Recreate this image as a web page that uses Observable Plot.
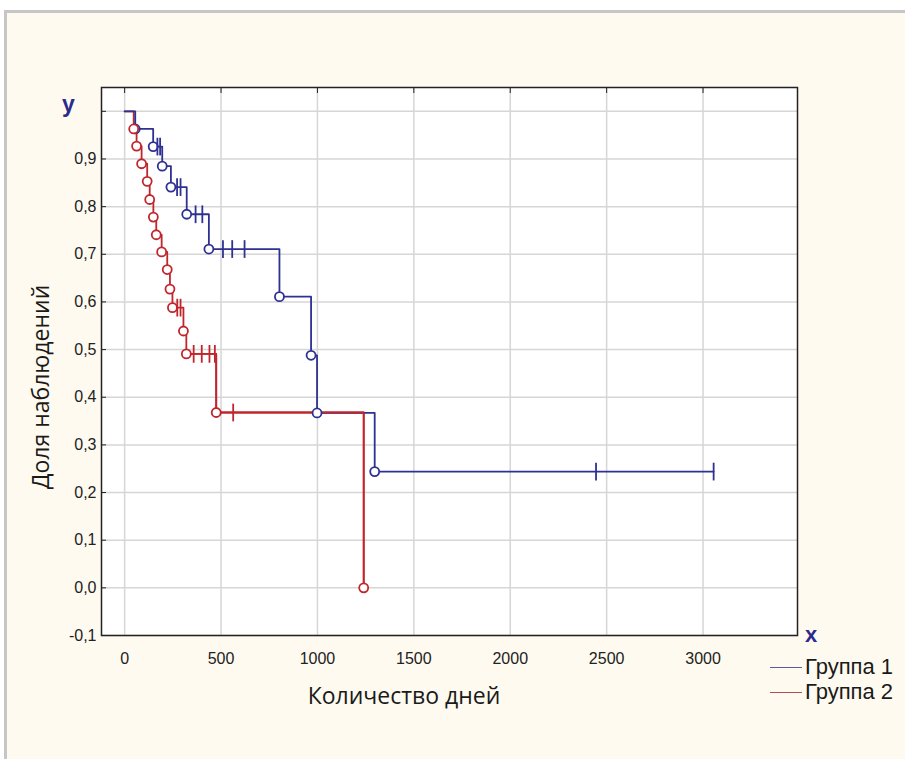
<!DOCTYPE html>
<html>
<head>
<meta charset="utf-8">
<script src="https://cdn.jsdelivr.net/npm/d3@7"></script>
<script src="https://cdn.jsdelivr.net/npm/@observablehq/plot@0.6"></script>
<style>
  html, body { margin: 0; padding: 0; background: #ffffff; }
  #wrap { position: relative; width: 905px; height: 759px; overflow: hidden; }
  #panel { position: absolute; left: 4px; top: 10px; width: 920px; height: 780px;
           background: #fefaf0; border-top: 3px solid #c6c6c6; border-left: 3px solid #c6c6c6; }
  #chart { position: absolute; left: 0; top: 0; }
  .lbl { position: absolute; font-family: "Open Sans", sans-serif; color: #1a1a1a; white-space: nowrap; line-height: 1; }
  .legt { position: absolute; font-family: "Liberation Sans", Arial, sans-serif; color: #1a1a1a; white-space: nowrap; line-height: 1; font-size: 22px; }
  .axl { position: absolute; font-family: "Liberation Sans", Arial, sans-serif; font-weight: bold; color: #2b2b8c; line-height: 1; }
  .leg { position: absolute; height: 0; border-top: 1.5px solid; width: 32px; }
</style>
</head>
<body>
<div id="wrap">
  <div id="panel"></div>
  <div id="chart"></div>
  <div class="lbl" style="left:404px; top:684px; font-size:23px; transform: translateX(-50%);">Количество дней</div>
  <div class="lbl" style="left:40px; top:387px; font-size:23px; transform: translate(-50%,-50%) rotate(-90deg);">Доля наблюдений</div>
  <div class="axl" style="left:62px; top:93px; font-size:23px;">y</div>
  <div class="axl" style="left:805px; top:624px; font-size:22px;">x</div>
  <div class="leg" style="left:770px; top:667px; border-color:#5a5aa0;"></div>
  <div class="leg" style="left:770px; top:692px; border-color:#b05050;"></div>
  <div class="legt" style="left:805px; top:656px;">Группа 1</div>
  <div class="legt" style="left:805px; top:681px;">Группа 2</div>
</div>
<script>
// Group 1 (blue): step points (day, survival)
const g1Days = [0, 55, 148, 195, 240, 322, 437, 803, 967, 998, 1297, 3055];
const g1Surv = [1.0, 0.963, 0.926, 0.885, 0.841, 0.784, 0.711, 0.611, 0.488, 0.367, 0.244, 0.244];
// Group 1 events (circles)
const g1EventDays = [55, 148, 195, 240, 322, 437, 803, 967, 998, 1297];
const g1EventSurv = [0.963, 0.926, 0.885, 0.841, 0.784, 0.711, 0.611, 0.488, 0.367, 0.244];
// Group 1 censored (ticks)
const g1CensDays = [170, 184, 272, 290, 368, 403, 510, 558, 622, 2445, 3055];
const g1CensSurv = [0.926, 0.926, 0.841, 0.841, 0.784, 0.784, 0.711, 0.711, 0.711, 0.244, 0.244];

// Group 2 (red)
const g2Days = [0, 47, 62, 88, 117, 130, 149, 164, 192, 221, 235, 248, 305, 320, 475, 1240];
const g2Surv = [1.0, 0.963, 0.927, 0.890, 0.853, 0.815, 0.778, 0.741, 0.705, 0.668, 0.627, 0.588, 0.539, 0.491, 0.368, 0.0];
const g2EventDays = [47, 62, 88, 117, 130, 149, 164, 192, 221, 235, 248, 305, 320, 475, 1240];
const g2EventSurv = [0.963, 0.927, 0.890, 0.853, 0.815, 0.778, 0.741, 0.705, 0.668, 0.627, 0.588, 0.539, 0.491, 0.368, 0.0];
const g2CensDays = [273, 290, 358, 400, 440, 468, 563];
const g2CensSurv = [0.588, 0.588, 0.491, 0.491, 0.491, 0.491, 0.368];

const xTicks = [0, 500, 1000, 1500, 2000, 2500, 3000];
const yGrid = [-0.1, 0, 0.1, 0.2, 0.3, 0.4, 0.5, 0.6, 0.7, 0.8, 0.9, 1.0];
const yLabels = [-0.1, 0, 0.1, 0.2, 0.3, 0.4, 0.5, 0.6, 0.7, 0.8, 0.9];

const blue = "#2e3192";
const red = "#c0272d";

const zip = (xs, ys) => xs.map((x, i) => ({x, y: ys[i]}));
const g1Line = zip(g1Days, g1Surv), g2Line = zip(g2Days, g2Surv);
const g1Ev = zip(g1EventDays, g1EventSurv), g2Ev = zip(g2EventDays, g2EventSurv);
const g1Ce = zip(g1CensDays, g1CensSurv), g2Ce = zip(g2CensDays, g2CensSurv);

const vbar = { draw(ctx, size) { const h = Math.sqrt(size); ctx.moveTo(0, -h); ctx.lineTo(0, h); } };
const fmt = d => d.toFixed(1).replace(".", ",");

const plot = Plot.plot({
  width: 905,
  height: 759,
  marginLeft: 101,
  marginRight: 108,
  marginTop: 87,
  marginBottom: 124,
  x: {domain: [-120, 3490]},
  y: {domain: [-0.1, 1.05]},
  style: {background: "transparent", fontFamily: "'Liberation Sans', Arial, sans-serif", fontSize: "16px", color: "#222"},
  marks: [
    Plot.frame({fill: "white"}),
    Plot.gridX(xTicks, {stroke: "#d6d6d6", strokeOpacity: 1, strokeWidth: 1.5}),
    Plot.gridY(yGrid, {stroke: "#d6d6d6", strokeOpacity: 1, strokeWidth: 1.5}),
    Plot.axisX(xTicks, {tickSize: 0, tickPadding: 17, label: null, fill: "#222", tickFormat: d => String(d)}),
    Plot.axisY(yLabels, {tickSize: 0, tickPadding: 5, label: null, tickFormat: fmt, fill: "#222"}),
    Plot.axisX(xTicks, {anchor: "top", tickSize: -5, text: null, label: null, stroke: "#222"}),
    Plot.axisY(yGrid, {anchor: "left", tickSize: -5, text: null, label: null, stroke: "#222"}),
    Plot.line(g2Line, {x: "x", y: "y", curve: "step-after", stroke: red, strokeWidth: 1.8}),
    Plot.line(g1Line, {x: "x", y: "y", curve: "step-after", stroke: blue, strokeWidth: 1.8}),
    Plot.line(g2Line.slice(-3), {x: "x", y: "y", curve: "step-after", stroke: red, strokeWidth: 1.8}),
    Plot.dot(g1Ev, {x: "x", y: "y", r: 4.5, stroke: blue, fill: "white", strokeWidth: 1.8}),
    Plot.dot(g2Ev, {x: "x", y: "y", r: 4.5, stroke: red, fill: "white", strokeWidth: 1.8}),
    Plot.dot(g1Ce, {x: "x", y: "y", symbol: vbar, r: 5, stroke: blue, strokeWidth: 1.8}),
    Plot.dot(g2Ce, {x: "x", y: "y", symbol: vbar, r: 5, stroke: red, strokeWidth: 1.8}),
    Plot.frame({stroke: "#222", strokeWidth: 1.5})
  ]
});
document.getElementById("chart").appendChild(plot);
</script>
</body>
</html>
